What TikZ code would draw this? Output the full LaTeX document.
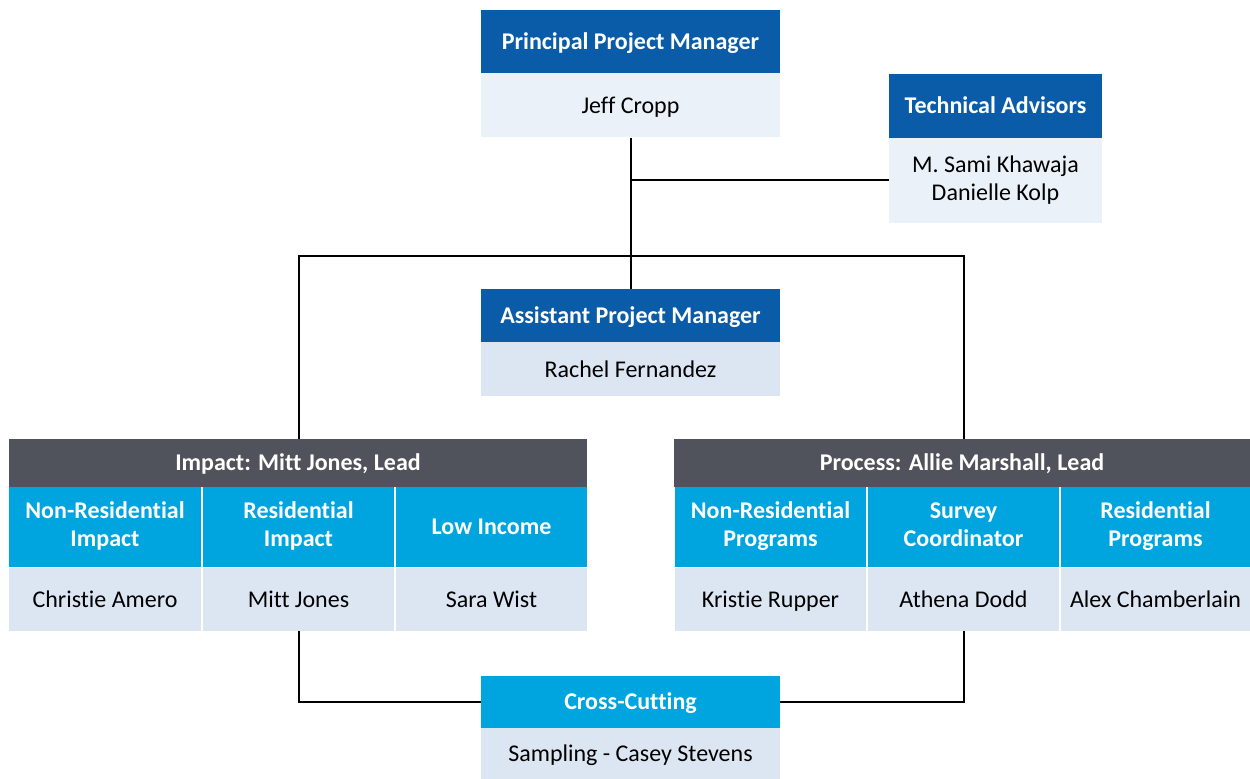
\documentclass[tikz,border=0pt]{standalone}
\usepackage{fontspec}
\setmainfont{Carlito}[Ligatures={TeX,NoCommon}]
\definecolor{dblue}{HTML}{0A5CA8}
\definecolor{cyanh}{HTML}{00A5E0}
\definecolor{dgray}{HTML}{50535B}
\definecolor{pale}{HTML}{EAF1F8}
\definecolor{lite}{HTML}{DCE6F2}
\newcommand{\twoline}[2]{\rule{0pt}{9pt}#1\\#2\rule[-3pt]{0pt}{3pt}}
\tikzset{
  box/.style={inner sep=0pt, align=center, font=\fontsize{12}{14}\selectfont},
  one/.style={text height=7.7pt, text depth=0pt},
  hdr/.style={box, fill=dblue, text=white, font=\fontsize{12}{14}\selectfont\bfseries},
  cyh/.style={box, fill=cyanh, text=white, font=\fontsize{12}{14}\selectfont\bfseries},
  grh/.style={box, fill=dgray, text=white, font=\fontsize{12}{14}\selectfont\bfseries},
  pbody/.style={box, fill=pale, text=black},
  lbody/.style={box, fill=lite, text=black},
  conn/.style={draw=black, line width=1pt},
}
\begin{document}
\begin{tikzpicture}[x=0.5pt, y=-0.5pt]
\useasboundingbox (0,0) rectangle (1250,779);
% Principal
\node[hdr, one, minimum width=149.5pt, minimum height=31.5pt] (pph) at (630.5,41.5) {Principal Project Manager};
\node[pbody, one, minimum width=149.5pt, minimum height=32pt] (jeff) at (630.5,105.5) {Jeff Cropp};
% Technical advisors
\node[hdr, one, minimum width=106.5pt, minimum height=32pt] (tah) at (995.5,106) {Technical Advisors};
\node[pbody, minimum width=106.5pt, minimum height=42.5pt] (tb) at (995.5,180.5) {\twoline{M. Sami Khawaja}{Danielle Kolp}};
% Assistant
\node[hdr, one, minimum width=149.5pt, minimum height=26.5pt] (aph) at (630.5,315.5) {Assistant Project Manager};
\node[lbody, one, minimum width=149.5pt, minimum height=27pt] (rach) at (630.5,369.5) {Rachel Fernandez};
% Impact group
\node[grh, one, minimum width=289pt, minimum height=24pt] (imp) at (298,463) {Impact: Mitt Jones, Lead};
\node[cyh, minimum width=96pt, minimum height=40pt] (i1h) at (105,527) {\twoline{Non-Residential}{Impact}};
\node[cyh, minimum width=95.5pt, minimum height=40pt] (i2h) at (298.5,527) {\twoline{Residential}{Impact}};
\node[cyh, one, minimum width=95.5pt, minimum height=40pt] (i3h) at (491.5,527) {Low Income};
\node[lbody, one, minimum width=96pt, minimum height=31.5pt] (i1b) at (105,599.5) {Christie Amero};
\node[lbody, one, minimum width=95.5pt, minimum height=31.5pt] (i2b) at (298.5,599.5) {Mitt Jones};
\node[lbody, one, minimum width=95.5pt, minimum height=31.5pt] (i3b) at (491.5,599.5) {Sara Wist};
% Process group
\node[grh, one, minimum width=288pt, minimum height=24pt] (proc) at (962,463) {Process: Allie Marshall, Lead};
\node[cyh, minimum width=95.5pt, minimum height=40pt] (p1h) at (770.5,527) {\twoline{Non-Residential}{Programs}};
\node[cyh, minimum width=95.5pt, minimum height=40pt] (p2h) at (963.5,527) {\twoline{Survey}{Coordinator}};
\node[cyh, minimum width=94.5pt, minimum height=40pt] (p3h) at (1155.5,527) {\twoline{Residential}{Programs}};
\node[lbody, one, minimum width=95.5pt, minimum height=31.5pt] (p1b) at (770.5,599.5) {Kristie Rupper};
\node[lbody, one, minimum width=95.5pt, minimum height=31.5pt] (p2b) at (963.5,599.5) {Athena Dodd};
\node[lbody, one, minimum width=94.5pt, minimum height=31.5pt] (p3b) at (1155.5,599.5) {Alex Chamberlain};
% Cross-cutting
\node[cyh, one, minimum width=149.5pt, minimum height=26pt] (cch) at (630.5,702) {Cross-Cutting};
\node[lbody, one, minimum width=149.5pt, minimum height=25.5pt] (ccb) at (630.5,754) {Sampling - Casey Stevens};
% connectors
\coordinate (bar) at (630.5,256);
\draw[conn] (jeff.south) -- (aph.north);
\draw[conn] (jeff.south |- tb.west) -- (tb.west);
\draw[conn] (i2b.south |- imp.north) -- (i2b.south |- bar) -- (p2b.south |- bar) -- (p2b.south |- proc.north);
\draw[conn] (i2b.south) |- (cch.west);
\draw[conn] (p2b.south) |- (cch.east);
\end{tikzpicture}
\end{document}
